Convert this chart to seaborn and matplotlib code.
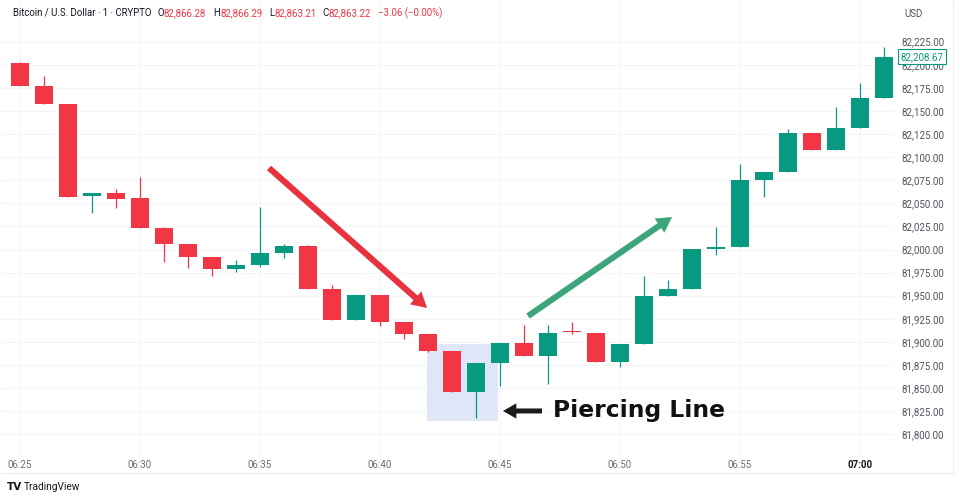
import matplotlib
matplotlib.use("Agg")
import matplotlib.pyplot as plt
import seaborn as sns
import pandas as pd
from matplotlib.patches import Rectangle, FancyArrowPatch
from matplotlib.lines import Line2D
from matplotlib.ticker import FuncFormatter

# ---------------- data ----------------
minutes = list(range(37))  # minutes after 06:25
opens = [82201.5, 82177.5, 82157, 82058, 82061, 82055.5, 82023.5, 82006, 81991.5, 81978.5,
         81983, 81996.5, 82004, 81957.5, 81923.5, 81950.5, 81921, 81908.5, 81890.5, 81845.5,
         81877, 81899, 81885, 81912, 81910, 81878, 81898, 81949.5, 81957.5, 82000.5,
         82003, 82075, 82084, 82126.5, 82107.5, 82132, 82163.5]
highs = [82203, 82188, 82158, 82061, 82065, 82078, 82024, 82006, 81992, 81988.5,
         82046, 82006, 82004.5, 81962, 81950.5, 81950.5, 81921, 81908.5, 81890.5, 81877,
         81899, 81918, 81918, 81921, 81910, 81898, 81971, 81967, 82000.5, 82024,
         82093, 82084, 82130, 82126.5, 82154, 82180.5, 82219]
lows = [82177, 82157, 82057, 82040, 82045, 82023.5, 81987, 81980, 81971.5, 81976,
        81981.5, 81991, 81957.5, 81923.5, 81923.5, 81917, 81903.5, 81889.5, 81845.5, 81818,
        81852.5, 81885, 81854, 81909, 81878, 81873, 81898, 81949.5, 81957.5, 81994,
        82003, 82057, 82084, 82107.5, 82107.5, 82132, 82163.5]
closes = [82177.5, 82157, 82057, 82061, 82055, 82023.5, 82006, 81991.5, 81979, 81983,
          81996.5, 82003.5, 81957.5, 81923.5, 81950.5, 81921, 81908.5, 81890, 81845.5, 81877,
          81899, 81885, 81910, 81910.5, 81878, 81898, 81949.5, 81957.5, 82000.5, 82003,
          82075, 82084, 82126.5, 82107.5, 82132, 82163.5, 82208.67]

tick_minutes = [0, 5, 10, 15, 20, 25, 30, 35]
tick_labels = ["06:25", "06:30", "06:35", "06:40", "06:45", "06:50", "06:55", "07:00"]
price_ticks = [81800, 81825, 81850, 81875, 81900, 81925, 81950, 81975, 82000,
               82025, 82050, 82075, 82100, 82125, 82150, 82175, 82200, 82225]

header_title = "Bitcoin / U.S. Dollar · 1 · CRYPTO"
header_fields = [("O", "82,866.28"), ("H", "82,866.29"), ("L", "82,863.21"), ("C", "82,863.22")]
header_change = "−3.06 (−0.00%)"

# annotation geometry (data coordinates)
highlight_box = (16.96, 81814.3, 2.96, 83.4)
red_arrow = [(10.375, 82088.3), (16.96, 81936.7)]
green_arrow = [(21.17, 81928.0), (27.17, 82035.2)]
label_arrow = [(21.75, 81825.2), (20.125, 81825.2)]
label_pos = (22.21, 81818.3)
label_text = "Piercing Line"

# ---------------- style ----------------
sns.set_theme(style="white")
plt.rcParams['font.family'] = ['Roboto', 'DejaVu Sans']

UP = "#089981"
DOWN = "#F23645"
DARK = "#131722"
GRID = "#f2f4f9"

df = pd.DataFrame(dict(minute=minutes, open=opens, high=highs, low=lows, close=closes))
df["up"] = df["close"] >= df["open"]
df["body_low"] = df[["open", "close"]].min(axis=1)
df["body_h"] = (df["close"] - df["open"]).abs().clip(lower=1.3)
df["color"] = df["up"].map({True: UP, False: DOWN})

W, H = 960, 499
fig = plt.figure(figsize=(9.6, 4.99), dpi=100)
fig.patch.set_facecolor("white")
ax = fig.add_axes([0, 1 - 453 / H, 893 / W, 453 / H])
ax.set_facecolor("white")

ax.set_xlim(-0.833, 36.375)
ax.set_ylim(81779.7, 82270.1)

# grid
ax.set_xticks(tick_minutes)
ax.set_xticklabels(tick_labels)
ax.set_yticks(price_ticks)
ax.yaxis.set_major_formatter(FuncFormatter(lambda v, p: f"{v:,.2f}"))
ax.grid(True, color=GRID, lw=0.8)
ax.set_axisbelow(True)
sns.despine(ax=ax, left=True, bottom=True, top=True, right=True)

ax.yaxis.tick_right()
ax.tick_params(axis="y", length=0, pad=6.3, labelsize=7, labelcolor="#50535e")
ax.tick_params(axis="x", length=0, pad=5.0, labelsize=7, labelcolor="#6a6d78")
lab = ax.get_xticklabels()[-1]
lab.set_fontweight("bold")
lab.set_color(DARK)

# highlight box
bx, by, bw, bh = highlight_box
ax.add_patch(Rectangle((bx, by), bw, bh, facecolor="#dfe6f8", edgecolor="none", zorder=0.8))

# candles
ax.vlines(df["minute"], df["low"], df["high"], colors=df["color"], lw=0.9, zorder=2)
ax.bar(df["minute"], df["body_h"], bottom=df["body_low"], width=0.78,
       color=df["color"], lw=0, zorder=3)

# arrows
def arrow(pts, color, tail, head_w, head_l):
    a = FancyArrowPatch(pts[0], pts[1],
                        arrowstyle=f"simple,tail_width={tail},head_width={head_w},head_length={head_l}",
                        mutation_scale=20, color=color, lw=0, shrinkA=0, shrinkB=0, zorder=5)
    ax.add_patch(a)

arrow(red_arrow, "#E8333F", 0.22, 0.62, 0.55)
arrow(green_arrow, "#3DA57B", 0.22, 0.62, 0.55)
arrow(label_arrow, "#1b1b1b", 0.18, 0.55, 0.48)
ax.text(label_pos[0], label_pos[1], label_text, fontsize=16.8, fontweight="bold",
        family="DejaVu Sans", color="#111111", ha="left", va="baseline", zorder=6)

# last price label
ax.annotate(f"{closes[-1]:,.2f}", xy=(1, closes[-1]), xycoords=("axes fraction", "data"),
            xytext=(5.5, 0), textcoords="offset points", fontsize=7, color=UP,
            ha="left", va="center", annotation_clip=False, zorder=10,
            bbox=dict(boxstyle="square,pad=0.25", fc="white", ec=UP, lw=0.8))

# header (laid out left to right, measured)
renderer = fig.canvas.get_renderer()
hy = 1 - 13 / H
fig.text(12.7 / W, hy, header_title, fontsize=6.9, color=DARK, ha="left", va="center")
group_x = [157, 213, 269, 322]
for (letter, val), gx in zip(header_fields, group_x):
    t = fig.text(gx / W, hy, letter, fontsize=6.9, color=DARK, ha="left", va="center")
    x1 = t.get_window_extent(renderer).x1
    fig.text((x1 + 0.3) / W, hy, val, fontsize=6.9, color=DOWN, ha="left", va="center")
fig.text(378 / W, hy, header_change, fontsize=6.9, color=DOWN, ha="left", va="center")
fig.text(904 / W, 1 - 14 / H, "USD", fontsize=7, color="#50535e", ha="left", va="center")

# footer
fig.text(7 / W, 1 - 486.5 / H, "TV", fontsize=7.5, fontweight="bold", family="DejaVu Sans",
         color=DARK, ha="left", va="center")
fig.text(24 / W, 1 - 486.5 / H, "TradingView", fontsize=7.3, color=DARK, ha="left", va="center")

# faint frame lines
fig.add_artist(Line2D([0, 953 / W], [1 - 473 / H, 1 - 473 / H], color="#eceef2", lw=0.8))
fig.add_artist(Line2D([953 / W, 953 / W], [1 - 473 / H, 1], color="#eceef2", lw=0.8))

fig.savefig("out.png", dpi=100, facecolor="white")
